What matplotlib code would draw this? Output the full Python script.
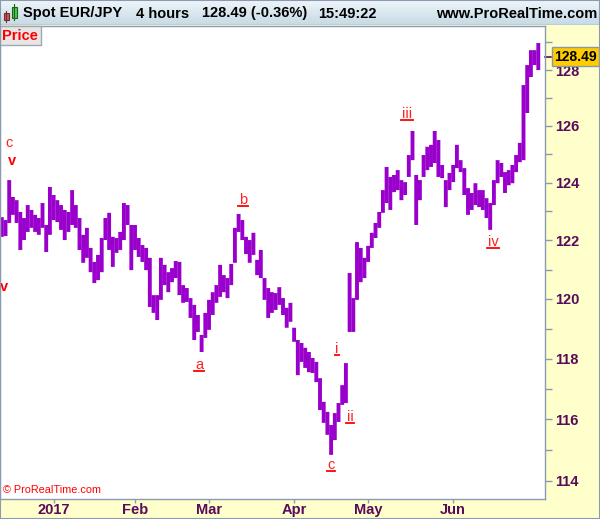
import numpy as np
import matplotlib
matplotlib.use('Agg')
import matplotlib.pyplot as plt
from matplotlib.ticker import FixedLocator, FixedFormatter, NullFormatter
from matplotlib.patches import Rectangle
from matplotlib.lines import Line2D
from matplotlib.colors import LinearSegmentedColormap
import matplotlib.transforms as mtransforms

plt.rcParams['font.family'] = ['Liberation Sans', 'DejaVu Sans']

# ---------------- data ----------------
# trading-day index (0 = 2 Jan 2017), one high/low bar per day
day_index = list(range(-14, 132))
highs = [122.80, 122.70, 124.09, 123.50, 123.39, 122.98, 122.77, 123.22, 123.05, 122.88, 122.77, 123.29, 122.53, 123.85,
         123.57, 123.39, 123.22, 123.05, 122.98, 123.74, 123.22, 122.77, 122.19, 122.43,
         121.74, 121.26, 121.50, 122.08, 122.77, 122.95, 122.12, 122.08, 122.29, 123.29,
         123.22, 122.53, 122.53, 122.08, 121.84, 121.74, 121.40, 120.13, 120.13, 121.40,
         121.16, 120.91, 121.05, 121.29, 121.26, 120.47, 120.37, 120.03, 119.80, 119.46,
         118.79, 119.53, 119.97, 120.23, 120.47, 121.16, 120.81, 120.71, 121.19, 122.43,
         122.91, 122.70, 122.12, 122.01, 122.26, 121.33, 121.67, 120.71, 120.37, 120.23,
         120.20, 120.40, 120.03, 119.70, 119.87, 119.03, 118.62, 118.52, 118.36, 118.22,
         118.02, 117.89, 117.35, 116.57, 116.24, 115.81, 116.20, 116.53, 117.12, 117.85,
         120.88, 120.03, 121.94, 121.74, 121.40, 121.81, 122.26, 122.60, 122.98, 123.74,
         124.55, 124.20, 124.27, 124.44, 124.09, 124.02, 124.97, 125.82, 124.27, 124.09,
         124.97, 125.26, 125.33, 125.82, 125.50, 124.62, 124.09, 124.34, 124.62, 125.33,
         124.79, 124.51, 123.81, 123.64, 123.98, 123.74, 123.74, 123.46, 123.29, 124.09,
         124.79, 124.69, 124.37, 124.44, 124.62, 124.97, 125.40, 127.46, 128.18, 128.72,
         128.72, 128.98]
lows = [122.12, 122.15, 122.60, 122.88, 122.60, 121.67, 122.01, 122.29, 122.43, 122.29, 122.19, 122.43, 121.60, 122.19,
        122.70, 122.63, 122.36, 122.01, 122.29, 122.53, 122.43, 121.67, 121.23, 121.40,
        120.91, 120.54, 120.64, 120.91, 122.01, 121.67, 121.09, 121.57, 121.67, 122.01,
        122.53, 120.98, 121.67, 121.43, 121.26, 120.98, 119.73, 119.53, 119.29, 119.97,
        120.47, 120.23, 120.57, 120.71, 120.13, 119.87, 119.90, 119.36, 118.62, 118.89,
        118.22, 118.69, 118.96, 119.46, 119.87, 120.07, 120.23, 120.03, 120.47, 121.23,
        122.29, 122.01, 121.53, 121.23, 121.50, 120.81, 120.71, 119.97, 119.36, 119.53,
        119.63, 119.80, 119.46, 119.03, 119.23, 118.56, 117.45, 117.89, 117.69, 117.55,
        117.52, 117.22, 116.30, 115.88, 115.49, 114.84, 115.32, 115.91, 116.47, 116.53,
        118.89, 118.89, 119.97, 120.57, 120.71, 121.26, 121.74, 122.08, 122.43, 122.95,
        123.29, 123.05, 123.67, 123.74, 123.39, 123.57, 124.20, 124.79, 122.53, 123.39,
        124.20, 124.44, 124.55, 124.69, 124.20, 124.16, 123.15, 123.74, 124.02, 124.51,
        124.37, 123.57, 122.88, 123.05, 123.22, 123.15, 123.05, 122.77, 122.36, 123.22,
        123.98, 124.20, 123.64, 123.91, 123.98, 124.37, 124.72, 124.79, 126.46, 127.75,
        128.18, 128.00]
last_price = 128.49
change_pct = -0.36
clock = '15:49:22'

month_ticks = [0, 22, 42, 65, 85, 108]
month_labels = ['2017', 'Feb', 'Mar', 'Apr', 'May', 'Jun']
price_ticks = [114, 116, 118, 120, 122, 124, 126, 128]
price_minor = [115, 117, 119, 121, 123, 125, 127, 129]

wave_text = ['c', 'v', 'v', 'a', 'b', 'c', 'i', 'ii', 'iii', 'iv']
wave_x = [-12.05, -11.24, -13.4, 39.3, 51.2, 75.0, 76.6, 80.1, 95.5, 118.8]
wave_y = [125.39, 124.76, 120.40, 117.79, 123.39, 114.52, 118.32, 116.08, 126.43, 121.94]
wave_under = [False, False, False, True, True, True, True, True, True, True]
wave_bold = [False, True, True, False, False, False, False, False, False, False]

# ---------------- layout ----------------
W, H = 600, 519
PURPLE = '#9900cc'
AXCOL = '#5a0a5a'
GRID = '#8a9bb0'

fig = plt.figure(figsize=(W / 100, H / 100), dpi=100, facecolor='#ffffcc')
ax = fig.add_axes([0, (H - 499) / H, 545 / W, (499 - 26) / H])
ax.set_facecolor('white')

ax.vlines(day_index, lows, highs, color=PURPLE, lw=2.8, snap=False)

ax.set_yscale('log')
ax.set_ylim(113.42, 129.60)
ax.set_xlim(-14.49, 132.81)

ax.yaxis.tick_right()
ax.yaxis.set_major_locator(FixedLocator(price_ticks))
ax.yaxis.set_major_formatter(FixedFormatter([str(v) for v in price_ticks]))
ax.yaxis.set_minor_locator(FixedLocator(price_minor))
ax.yaxis.set_minor_formatter(NullFormatter())
ax.tick_params(axis='y', which='both', direction='out', length=5, width=1,
               color=GRID, labelcolor=AXCOL, labelsize=10.5, pad=2)
for t in ax.get_yticklabels():
    t.set_fontweight('bold')

ax.set_xticks(month_ticks)
ax.set_xticklabels(month_labels, fontweight='bold')
ax.tick_params(axis='x', which='both', direction='out', length=3, width=1,
               color=GRID, labelcolor=AXCOL, labelsize=10.5, pad=0)

for s in ax.spines.values():
    s.set_color(GRID)
    s.set_linewidth(1)

# wave labels
texts = []
for txt, x, y, u, b in zip(wave_text, wave_x, wave_y, wave_under, wave_bold):
    t = ax.text(x, y, txt, color='#ff2020' if not b else '#ff0000', fontsize=10.5,
                fontweight='bold' if b else 'normal', ha='center', va='center')
    texts.append((t, u))

# price box label at top-left
ax.add_patch(Rectangle((0, (499 - 45) / 473), 41 / 545, 19 / 473, transform=ax.transAxes,
                       facecolor='#e6e6e6', edgecolor='#a0a8b0', lw=1, zorder=5, clip_on=False))
ax.text(20 / 545, (499 - 35.5) / 473, 'Price', transform=ax.transAxes, color='#ff0000',
        fontweight='bold', fontsize=10.5, ha='center', va='center', zorder=6)

# copyright
ax.text(3 / 545, (499 - 490) / 473, '\u00a9 ProRealTime.com', transform=ax.transAxes,
        color='#ff0000', fontsize=7.8, ha='left', va='center')

# last price marker
blend = mtransforms.blended_transform_factory(ax.transAxes, ax.transData)
ax.plot([1.0, 1.0 + 6 / 545], [last_price, last_price], transform=blend, color=AXCOL,
        lw=1.2, clip_on=False)
ax.text(1.0 + 9 / 545, last_price, f'{last_price:.2f}', transform=blend, ha='left',
        va='center', fontsize=10, fontweight='bold', color='black', clip_on=False, zorder=10,
        bbox=dict(boxstyle='square,pad=0.18', fc='#ffcc00', ec='#8899aa', lw=1))

# title bar
tax = fig.add_axes([0, (H - 25) / H, 1, 25 / H])
grad = np.linspace(0, 1, 50).reshape(-1, 1)
cmap = LinearSegmentedColormap.from_list('tb', ['#eef5f9', '#c6dae6'])
tax.imshow(grad, aspect='auto', cmap=cmap, extent=[0, 600, 25, 0])
tax.set_xlim(0, 600)
tax.set_ylim(25, 0)
tax.axis('off')
tax.add_patch(Rectangle((3.5, 12.5), 5.5, 7, facecolor='#e05050', edgecolor='#703030', lw=0.8))
tax.plot([6.25, 6.25], [10.5, 21.5], color='#703030', lw=0.8)
tax.add_patch(Rectangle((11.5, 6.5), 5.5, 11, facecolor='#40d040', edgecolor='#206020', lw=0.8))
tax.plot([14.25, 14.25], [4, 20], color='#206020', lw=0.8)
tkw = dict(fontsize=10.5, fontweight='bold', color='black', va='center')
tax.text(23, 13.5, 'Spot EUR/JPY', ha='left', **tkw)
tax.text(136, 13.5, '4 hours', ha='left', **tkw)
tax.text(202, 13.5, f'{last_price:.2f} ({change_pct:.2f}%)', ha='left', **tkw)
tax.text(318, 13.5, clock, ha='left', **tkw)
tax.text(597, 13.5, 'www.ProRealTime.com', ha='right', **tkw)
tax.plot([0, 600], [24.6, 24.6], color=GRID, lw=1)

# underlines below wave labels
fig.canvas.draw()
renderer = fig.canvas.get_renderer()
for t, u in texts:
    if not u:
        continue
    bb = t.get_window_extent(renderer)
    yl = bb.y0 + 1
    fig.add_artist(Line2D([bb.x0 - 0.5, bb.x1 + 0.5], [yl, yl], color='#ff0000', lw=1.3,
                          transform=mtransforms.IdentityTransform()))

# outer frame
fig.add_artist(Rectangle((0, 0), 1, 1, transform=fig.transFigure, fill=False,
                         edgecolor=GRID, lw=1.5))

fig.savefig('out.png', dpi=100, facecolor=fig.get_facecolor())
